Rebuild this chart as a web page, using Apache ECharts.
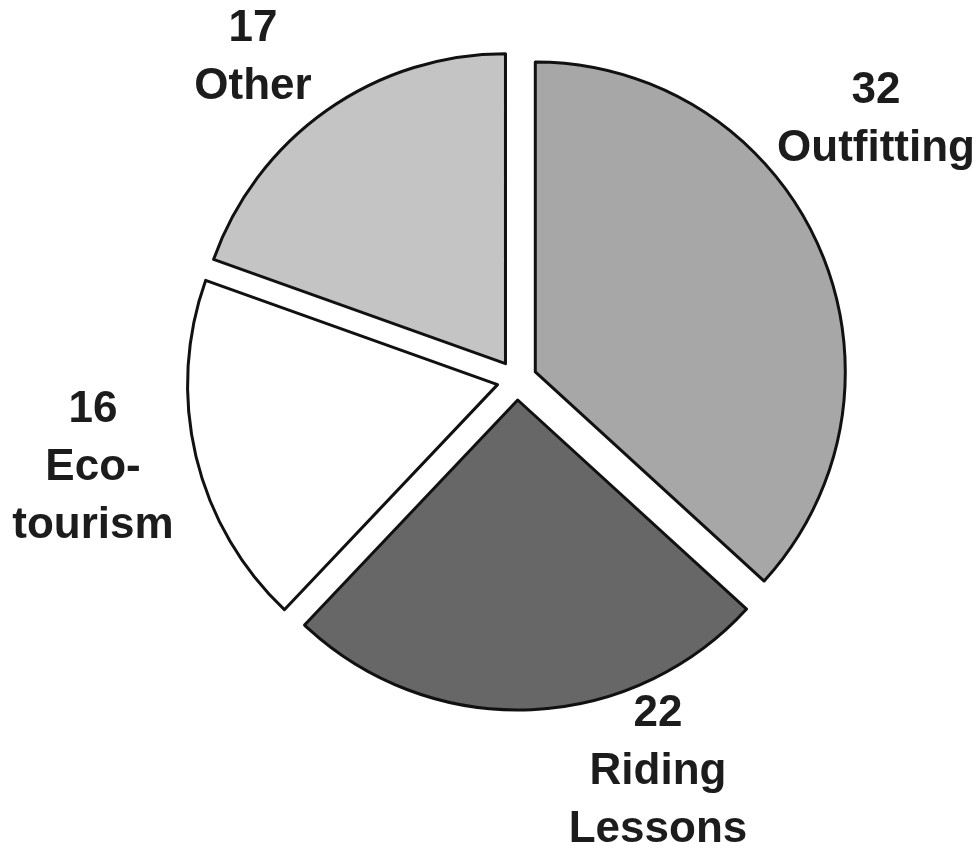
<!DOCTYPE html>
<html>
<head>
<meta charset="utf-8">
<script src="https://cdn.jsdelivr.net/npm/echarts@6/dist/echarts.min.js"></script>
<style>
  html, body { margin: 0; padding: 0; background: #fff; }
  #chart { width: 979px; height: 852px; }
</style>
</head>
<body>
<div id="chart"></div>
<script>
var categories = ['Outfitting', 'Riding\nLessons', 'Eco-\ntourism', 'Other'];
var counts = [32, 22, 16, 17];

var sliceColors = ['#a7a7a7', '#676767', '#ffffff', '#c4c4c4'];
// where each label block sits (centre)
var labelSpots = [[876, 120], [658, 772], [93, 468], [253, 58]];

var myChart = echarts.init(document.getElementById('chart'));

// exploded slices: every slice is "selected" so it moves out by selectedOffset
var sliceData = categories.map(function (name, i) {
  return {
    name: name,
    value: counts[i],
    selected: true,
    itemStyle: { color: sliceColors[i] }
  };
});
// same values again, only used to carry the labels (selection state overrides label layout)
var labelData = categories.map(function (name, i) {
  return { name: name, value: counts[i] };
});

var option = {
  backgroundColor: '#ffffff',
  animation: false,
  series: [{
    type: 'pie',
    center: [517, 380],
    radius: 310,
    startAngle: 90,
    clockwise: true,
    selectedMode: 'multiple',
    selectedOffset: 20,
    silent: true,
    emphasis: { disabled: true },
    itemStyle: {
      borderColor: '#111',
      borderWidth: 3
    },
    label: { show: false },
    labelLine: { show: false },
    data: sliceData,
    z: 2
  }, {
    type: 'pie',
    center: [517, 380],
    radius: 310,
    startAngle: 90,
    silent: true,
    avoidLabelOverlap: false,
    emphasis: { disabled: true },
    itemStyle: { color: 'rgba(0,0,0,0)', borderWidth: 0 },
    label: {
      show: true,
      position: 'outside',
      formatter: '{c}\n{b}',
      fontFamily: '"Liberation Sans", Arial, sans-serif',
      fontWeight: 'bold',
      fontSize: 44,
      lineHeight: 58,
      color: '#1c1c1c',
      align: 'center'
    },
    labelLine: { show: false },
    labelLayout: function (params) {
      var p = labelSpots[params.dataIndex];
      return { x: p[0], y: p[1], align: 'center', verticalAlign: 'middle' };
    },
    data: labelData,
    z: 1
  }]
};
myChart.setOption(option);
window.onresize = function () {
  myChart.resize();
};
</script>
</body>
</html>
